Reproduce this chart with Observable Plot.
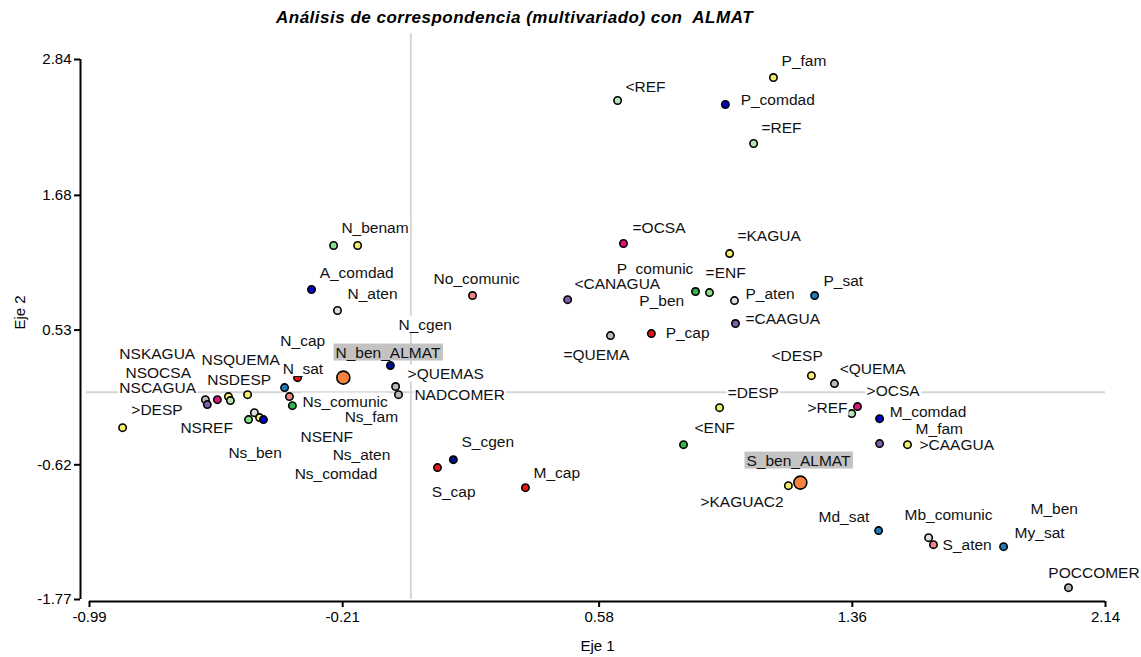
<!DOCTYPE html>
<html><head><meta charset="utf-8">
<script src="https://cdn.jsdelivr.net/npm/d3@7"></script>
<script src="https://cdn.jsdelivr.net/npm/@observablehq/plot@0.6"></script>
<style>
body{margin:0;background:#fff;}
#chart svg{display:block;}
</style>
</head><body>
<div id="chart"></div>
<script>
// ---- point data ----
const names = ["<REF","P_comdad","P_fam","=REF","=OCSA","=KAGUA","=ENF","P_ben","<CANAGUA","P_aten","P_sat","=CAAGUA","P_cap","=QUEMA","<DESP","<QUEMA","=DESP",">OCSA",">REF","M_comdad","<ENF",">CAAGUA","M_fam","S_ben_ALMAT",">KAGUAC2","Md_sat","S_aten","Mb_comunic","My_sat","POCCOMER","S_cgen","S_cap","M_cap","N_benam","N_fam","A_comdad","N_aten","No_comunic","N_cgen","N_cap","N_ben_ALMAT",">QUEMAS","NADCOMER","N_sat","Ns_comunic","NSENF",">DESP","NSQUEMA","NSCAGUA","NSOCSA","NSKAGUA","NSREF","NSDESP","Ns_aten","Ns_fam","Ns_comdad","Ns_ben"];
const eje1 = [0.637,0.969,1.117,1.056,0.655,0.982,0.877,0.920,0.483,0.997,1.244,1.000,0.741,0.615,1.234,1.305,0.951,1.376,1.358,1.444,0.840,1.444,1.530,1.200,1.163,1.441,1.595,1.610,1.826,2.026,0.131,0.082,0.353,-0.238,-0.164,-0.306,-0.226,0.190,-0.063,-0.349,-0.208,-0.047,-0.038,-0.389,-0.374,-0.365,-0.888,-0.633,-0.627,-0.596,-0.562,-0.556,-0.503,-0.482,-0.466,-0.454,-0.500];
const eje2 = [2.490,2.456,2.686,2.123,1.269,1.183,0.859,0.850,0.790,0.782,0.825,0.586,0.500,0.483,0.141,0.073,-0.132,-0.123,-0.183,-0.226,-0.448,-0.439,-0.448,-0.772,-0.798,-1.182,-1.242,-1.302,-1.319,-1.669,-0.576,-0.644,-0.815,1.252,1.252,0.876,0.697,0.825,0.227,0.124,0.124,0.048,-0.021,0.039,-0.038,-0.115,-0.303,-0.064,-0.106,-0.064,-0.038,-0.072,-0.021,-0.175,-0.217,-0.234,-0.234];
const groups = ["REF","comdad","fam","REF","OCSA","KAGUA","ENF","ben","CAGUA","aten","sat","CAGUA","cap","QUEMA","DESP","QUEMA","DESP","OCSA","REF","comdad","ENF","CAGUA","fam","ALMAT","KAGUA","sat","aten","comunic","sat","COMER","cgen","cap","cap","ben","fam","comdad","aten","comunic","cgen","cap","ALMAT","QUEMA","COMER","sat","comunic","ENF","DESP","QUEMA","CAGUA","OCSA","KAGUA","REF","DESP","aten","fam","comdad","ben"];

// ---- label data (label anchor in axis units) ----
const labelText = ["<REF","P_comdad","P_fam","=REF","=OCSA","=KAGUA","P_comunic","=ENF","<CANAGUA","P_ben","P_aten","P_sat","=CAAGUA","P_cap","=QUEMA","<DESP","<QUEMA","=DESP",">OCSA",">REF","M_comdad",">CAAGUA","M_fam","<ENF","S_ben_ALMAT",">KAGUAC2","Md_sat","Mb_comunic","M_ben","My_sat","S_aten","POCCOMER","S_cgen","S_cap","M_cap","N_benam","A_comdad","N_aten","No_comunic","N_cgen","N_cap","N_ben_ALMAT",">QUEMAS","NADCOMER","N_sat","Ns_fam","Ns_comunic","NSENF","Ns_aten","Ns_comdad","NSKAGUA","NSQUEMA","NSOCSA","NSDESP","NSCAGUA",">DESP","NSREF","Ns_ben"];
const labelX = [0.661,1.016,1.142,1.080,0.683,1.006,0.634,0.908,0.504,0.704,1.031,1.271,1.031,0.785,0.470,1.111,1.321,0.976,1.404,1.222,1.475,1.567,1.555,0.874,1.034,0.892,1.256,1.521,1.909,1.860,1.638,1.964,0.156,0.064,0.378,-0.214,-0.281,-0.195,0.070,-0.038,-0.402,-0.232,-0.010,0.011,-0.395,-0.204,-0.334,-0.340,-0.241,-0.358,-0.898,-0.645,-0.879,-0.627,-0.898,-0.861,-0.710,-0.562];
const labelY = [2.609,2.490,2.831,2.259,1.405,1.329,1.055,1.021,0.927,0.782,0.842,0.953,0.628,0.509,0.321,0.312,0.201,-0.004,0.013,-0.132,-0.166,-0.448,-0.311,-0.303,-0.584,-0.935,-1.063,-1.046,-0.994,-1.199,-1.302,-1.541,-0.422,-0.849,-0.687,1.405,1.021,0.842,0.970,0.577,0.440,0.338,0.159,-0.021,0.201,-0.209,-0.081,-0.379,-0.533,-0.695,0.329,0.278,0.167,0.107,0.039,-0.149,-0.303,-0.516];

// ---- axes ----
const xTicks = [-0.99,-0.21,0.58,1.36,2.14];
const yTicks = [-1.77,-0.62,0.53,1.68,2.84];
const titleText = "Análisis de correspondencia (multivariado) con  ALMAT";
const xLabel = "Eje 1";
const yLabel = "Eje 2";

// ---- colour scale ----
const groupDomain = ["REF","comdad","fam","OCSA","KAGUA","ENF","ben","CAGUA","aten","sat","cap","QUEMA","DESP","comunic","cgen","COMER","ALMAT"];
const groupColors = ["#b8e4b8","#0000d0","#f4ee6a","#e2127a","#f4ee6a","#33b34a","#88e088","#7e5fae","#dedede","#1f7ab8","#ee1111","#b8b8b8","#f4ee6a","#f28585","#00108c","#b8b8b8","#f5823f"];

const points = names.map((n, i) => ({name: n, x: eje1[i], y: eje2[i], group: groups[i]}));
const labels = labelText.map((t, i) => ({text: t, x: labelX[i], y: labelY[i]}));
const xMin = xTicks[0], xMax = xTicks[xTicks.length - 1];
const yMin = yTicks[0], yMax = yTicks[yTicks.length - 1];
const fmt = d => d.toFixed(2);
const FONT = "'Liberation Sans', Arial, Helvetica, sans-serif";
const isAlmat = d => d.text.endsWith("_ALMAT");

const svg = Plot.plot({
  width: 1141,
  height: 657,
  marginTop: 59,
  marginBottom: 58,
  marginLeft: 89,
  marginRight: 36,
  style: {fontFamily: FONT, background: "#fff", color: "#000"},
  x: {domain: [xMin, xMax], axis: null},
  y: {domain: [yMin, yMax], axis: null},
  color: {type: "ordinal", domain: groupDomain, range: groupColors},
  marks: [
    // reference lines at the origin
    Plot.ruleX([0], {y1: yMin, y2: 3.06, stroke: "#d6d6d6", strokeWidth: 2}),
    Plot.ruleY([0], {x1: -1.0, x2: xMax, stroke: "#d6d6d6", strokeWidth: 2}),
    // axis lines
    Plot.ruleX([xMin], {y1: yMin, y2: yMax, dx: -9, stroke: "#000", strokeWidth: 2}),
    Plot.ruleY([yMin], {x1: xMin, x2: xMax, dy: 2, stroke: "#000", strokeWidth: 2}),
    Plot.axisX(xTicks, {anchor: "bottom", tickSize: 6, tickPadding: 4, dy: 2, tickFormat: fmt, fontSize: 15, strokeWidth: 2, label: null}),
    Plot.axisY(yTicks, {anchor: "left", tickSize: 6, tickPadding: 3, dx: -9, tickFormat: fmt, fontSize: 15, strokeWidth: 2, label: null}),
    // points
    Plot.dot(points.filter(d => d.group !== "ALMAT"), {x: "x", y: "y", r: 3.7, fill: "group", stroke: "#000", strokeWidth: 1.6}),
    Plot.dot(points.filter(d => d.group === "ALMAT"), {x: "x", y: "y", r: 6.5, fill: "group", stroke: "#000", strokeWidth: 1.6}),
    // labels (white boxes / grey boxes added after rendering)
    Plot.text(labels.filter(d => !isAlmat(d)), {x: "x", y: "y", text: "text", textAnchor: "start", lineAnchor: "middle", fontSize: 15.5, fill: "#111", ariaDescription: "point-labels"}),
    Plot.text(labels.filter(isAlmat), {x: "x", y: "y", text: "text", textAnchor: "start", lineAnchor: "middle", fontSize: 15.5, fill: "#111", ariaDescription: "almat-labels"}),
    // titles
    Plot.text([titleText], {frameAnchor: "top", lineAnchor: "middle", dx: -83, dy: -42, fontSize: 17, fontWeight: "bold", fontStyle: "italic", fill: "#000", ariaDescription: "chart-title"}),
    Plot.text([xLabel], {frameAnchor: "bottom", lineAnchor: "middle", dy: 47, fontSize: 15, fill: "#000"}),
    Plot.text([yLabel], {frameAnchor: "left", lineAnchor: "middle", dx: -69, rotate: -90, fontSize: 15, fill: "#000"})
  ]
});
document.getElementById("chart").append(svg);

function boxes(selector, fill, padX) {
  svg.querySelectorAll(selector).forEach(t => {
    const b = t.getBBox();
    const r = document.createElementNS("http://www.w3.org/2000/svg", "rect");
    r.setAttribute("x", b.x - padX);
    r.setAttribute("y", b.y);
    r.setAttribute("width", b.width + 2 * padX);
    r.setAttribute("height", b.height);
    r.setAttribute("fill", fill);
    const tr = t.getAttribute("transform");
    if (tr) r.setAttribute("transform", tr);
    t.parentNode.insertBefore(r, t);
  });
}
boxes('g[aria-description="point-labels"] text', "#ffffff", 1);
boxes('g[aria-description="almat-labels"] text', "#c3c3c3", 2);
svg.querySelectorAll('g[aria-description="chart-title"] text').forEach(t => t.style.letterSpacing = "0.5px");
</script>
</body></html>
